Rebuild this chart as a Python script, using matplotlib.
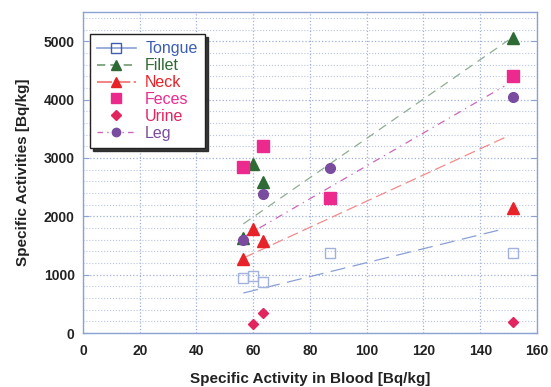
import matplotlib
matplotlib.use('Agg')
import matplotlib.pyplot as plt
from matplotlib.ticker import MultipleLocator

plt.rcParams['font.family'] = ['Liberation Sans', 'DejaVu Sans']

# blood activity of each sample
blood = [56.5, 60, 63.5, 87, 151.5]

tongue = [940, 975, 875, 1370, 1370]
fillet_x = [56.5, 60, 63.5, 151.5]
fillet = [1630, 2890, 2590, 5050]
neck_x = [56.5, 60, 63.5, 151.5]
neck = [1270, 1790, 1570, 2150]
feces_x = [56.5, 63.5, 87, 151.5]
feces = [2840, 3210, 2320, 4410]
urine_x = [60, 63.5, 151.5]
urine = [150, 340, 190]
leg_x = [56.5, 63.5, 87, 151.5]
leg = [1590, 2380, 2825, 4040]

# trend lines (start / end)
tongue_fit_x, tongue_fit = [56.5, 148], [685, 1780]
fillet_fit_x, fillet_fit = [56.5, 150], [1870, 5020]
neck_fit_x, neck_fit = [56.5, 150], [1285, 3380]
leg_fit_x, leg_fit = [56.5, 148.5], [1640, 4230]

names = ['Tongue', 'Fillet', 'Neck', 'Feces', 'Urine', 'Leg']

c_tongue = '#3d5db5'
c_fillet = '#2d6a34'
c_neck = '#e82229'
c_feces = '#ec2a8e'
c_urine = '#e2245f'
c_leg = '#7a4c9f'
c_axis = '#8ea2d2'

fig = plt.figure(figsize=(5.51, 3.87), dpi=100)
ax = fig.add_axes([0.1506, 0.1395, 0.824, 0.8295])

# fitted lines
ax.plot(tongue_fit_x, tongue_fit, color='#8a9fd6', lw=0.9, dashes=(12, 6))
ax.plot(fillet_fit_x, fillet_fit, color='#8fae90', lw=0.9, dashes=(7, 5))
ax.plot(neck_fit_x, neck_fit, color='#f28a8a', lw=0.9, dashes=(9, 4))
ax.plot(leg_fit_x, leg_fit, color='#cc66bb', lw=0.9, dashes=(6, 4, 1, 4))

# data points
ax.plot(blood, tongue, 's', ms=7.5, mfc='none', mec='#a2b2dc', mew=1.0)
ax.plot(fillet_x, fillet, '^', ms=8, color=c_fillet)
ax.plot(neck_x, neck, '^', ms=8, color=c_neck)
ax.plot(feces_x, feces, 's', ms=8.5, color=c_feces)
ax.plot(urine_x, urine, 'D', ms=5.5, color=c_urine)
ax.plot(leg_x, leg, 'o', ms=7, color=c_leg)

ax.set_xlim(0, 160)
ax.set_ylim(0, 5500)
ax.xaxis.set_major_locator(MultipleLocator(20))
ax.yaxis.set_minor_locator(MultipleLocator(200))
ax.set_yticks([0, 1000, 2000, 3000, 4000, 5000])

ax.grid(True, which='major', color='#9fb0d8', ls=':', lw=0.9)
ax.grid(True, which='minor', axis='y', color='#b8c4e2', ls=':', lw=0.8)
ax.set_axisbelow(True)

for s in ax.spines.values():
    s.set_color(c_axis)
    s.set_linewidth(1.0)
ax.tick_params(axis='y', which='major', direction='in', length=4, color=c_axis,
               right=True, labelsize=10, pad=6, labelcolor='#222222')
ax.tick_params(axis='y', which='minor', length=0)
ax.tick_params(axis='x', direction='in', length=0, labelsize=10, pad=8,
               labelcolor='#222222')
for lab in ax.get_xticklabels() + ax.get_yticklabels():
    lab.set_fontweight('bold')

ax.set_xlabel('Specific Activity in Blood [Bq/kg]', fontsize=11, fontweight='bold',
              color='#222222', labelpad=10)
ax.set_ylabel('Specific Activities [Bq/kg]', fontsize=11, fontweight='bold',
              color='#222222', labelpad=10)

# legend handles
h_tongue, = ax.plot([], [], color='#8a9fd6', lw=1.2, marker='s', ms=7, mfc='none',
                    mec=c_tongue)
h_fillet, = ax.plot([], [], color='#6f9a72', lw=1.2, ls=(0, (5, 3)), marker='^', ms=7,
                    mfc=c_fillet, mec=c_fillet)
h_neck, = ax.plot([], [], color='#f07070', lw=1.2, ls=(0, (9, 2)), marker='^', ms=7,
                  mfc=c_neck, mec=c_neck)
h_feces, = ax.plot([], [], ls='none', marker='s', ms=7, color=c_feces)
h_urine, = ax.plot([], [], ls='none', marker='D', ms=5, color=c_urine)
h_leg, = ax.plot([], [], color='#cc66bb', lw=1.0, ls=(0, (4, 3, 1, 3)), marker='o', ms=6,
                 mfc=c_leg, mec=c_leg)

leg_box = ax.legend([h_tongue, h_fillet, h_neck, h_feces, h_urine, h_leg], names,
                    loc='upper left', bbox_to_anchor=(-0.002, 0.956), fontsize=11.5,
                    frameon=True, fancybox=False, shadow={'color': '#222222', 'alpha': 0.9},
                    handlelength=2.4, handletextpad=0.6, labelspacing=0.12,
                    borderpad=0.45,
                    labelcolor=[c_tongue, c_fillet, c_neck, c_feces, c_urine, c_leg])
leg_box.get_frame().set_edgecolor('#222222')
leg_box.get_frame().set_linewidth(1.0)
leg_box.get_frame().set_alpha(1.0)

fig.savefig('out.png', dpi=100)
